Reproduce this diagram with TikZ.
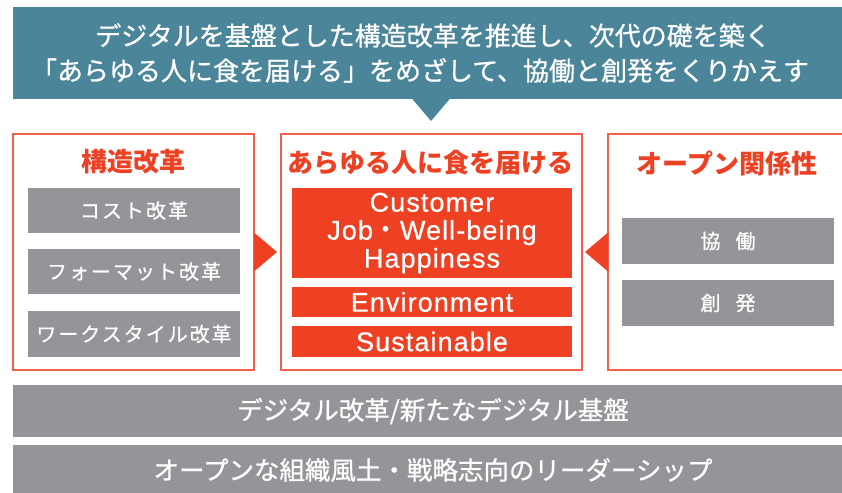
\documentclass[tikz,border=0pt]{standalone}
\usepackage{fontspec}
\setmainfont{Noto Sans CJK JP}
\newfontfamily\jp{Noto Sans CJK JP}
\newfontfamily\jpm[FakeBold=0.8]{Noto Sans CJK JP}
\newfontfamily\jpsp[LetterSpace=10,FakeBold=0.6]{Noto Sans CJK JP}
\newfontfamily\lat[LetterSpace=4,FakeBold=0.6]{Liberation Sans}
\definecolor{teal}{HTML}{4A8599}
\definecolor{redc}{HTML}{EE4023}
\definecolor{frame}{HTML}{F0604A}
\definecolor{grayc}{HTML}{939598}
\begin{document}
\begin{tikzpicture}[x=1pt,y=-1pt,
  blk/.style={anchor=north west, inner sep=0pt, outer sep=0pt, text=white, align=center},
  frm/.style={anchor=north west, inner sep=0pt, outer sep=0pt, draw=frame, line width=1.5pt, fill=white},
  graybox/.style={blk, fill=grayc, minimum width=212pt, font=\jpsp\fontsize{20}{24}\selectfont},
  redbox/.style={blk, fill=redc, minimum width=280pt, font=\lat\fontsize{27}{28}\selectfont},
  bar/.style={blk, fill=grayc, minimum width=840pt, font=\jpm\fontsize{25.5}{30}\selectfont},
  ttl/.style={text=redc, inner sep=0pt, font=\jp\bfseries\fontsize{26}{30}\selectfont}
]
\useasboundingbox (0,0) rectangle (842,492);
\clip (0,0) rectangle (842,492);
% banner
\node[blk, fill=teal, minimum width=840pt, minimum height=92pt,
      font=\jpm\fontsize{26}{35}\selectfont] (banner) at (13,7)
  {デジタルを基盤とした構造改革を推進し、次代の礎を築く\\\hspace*{-26pt}「あらゆる人に食を届ける」をめざして、協働と創発をくりかえす};
\coordinate (btip) at (431,121);
\fill[teal] (btip) -- ++(-19.5,-23) -- ++(39,0) -- cycle;
% three frames
\node[frm, minimum width=241pt, minimum height=236pt] (L) at (13,134) {};
\node[frm, minimum width=301pt, minimum height=236pt] (M) at (281,134) {};
\node[frm, minimum width=270pt, minimum height=236pt] (R) at (608,134) {};
% titles
\node[ttl] (Lt) at (133,162) {構造改革};
\node[ttl] (Mt) at (430,163) {あらゆる人に食を届ける};
\node[ttl] (Rt) at (727,163) {オープン関係性};
% left items
\node[graybox, minimum height=45pt] (L1) at (28,188) {コスト改革};
\node[graybox, minimum height=45pt] (L2) at (28,249) {フォーマット改革};
\node[graybox, minimum height=46pt] (L3) at (28,311) {ワークスタイル改革};
% middle items
\node[redbox, minimum height=90pt] (M1) at (292,188)
  {Customer\\Job{\jp ・}Well-being\\Happiness};
\node[redbox, minimum height=30pt] (M2) at (292,287) {Environment};
\node[redbox, minimum height=31pt] (M3) at (292,326) {Sustainable};
% right items
\node[graybox, minimum height=46pt] (R1) at (622,218) {協\hspace{15pt}働};
\node[graybox, minimum height=46pt] (R2) at (622,280) {創\hspace{15pt}発};
% arrows
\fill[redc] (L.east) ++(0,-19.5) -- ++(23,19.5) -- ++(-23,19.5) -- cycle;
\fill[redc] (R.west) ++(0,-19.5) -- ++(-23,19.5) -- ++(23,19.5) -- cycle;
% bottom bars
\node[bar, minimum height=52pt] (B1) at (13,385) {デジタル改革/新たなデジタル基盤};
\node[bar, minimum height=50pt] (B2) at (13,445) {オープンな組織風土・戦略志向のリーダーシップ};
\end{tikzpicture}
\end{document}
